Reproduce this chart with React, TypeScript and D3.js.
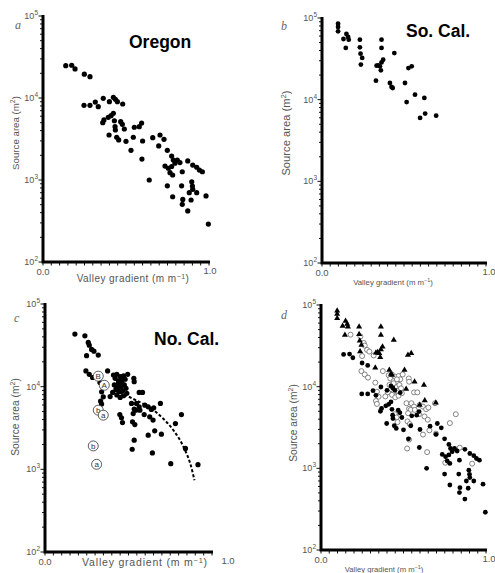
import React from 'react';
import * as d3 from 'd3';

// ---------- data (gradient m/m, source area m^2) ----------
const oregon: [number, number][] = [
  [0.137, 24800], [0.173, 25100], [0.193, 22600], [0.249, 19500], [0.283, 18200],
  [0.247, 8150], [0.283, 8150], [0.315, 8930], [0.333, 7830], [0.363, 9910],
  [0.40, 9020], [0.424, 10200], [0.436, 9640], [0.448, 9020], [0.48, 8450],
  [0.36, 5000], [0.367, 5400], [0.393, 5820], [0.41, 6080], [0.424, 6500],
  [0.43, 5280], [0.434, 4470], [0.436, 4070], [0.398, 3540], [0.444, 3320],
  [0.456, 3080], [0.468, 5140], [0.478, 4780], [0.49, 4190], [0.50, 2960],
  [0.53, 2300], [0.544, 3320], [0.55, 4400], [0.58, 4470], [0.594, 4950],
  [0.60, 2990], [0.596, 1800], [0.64, 1000], [0.661, 3280], [0.697, 2600],
  [0.705, 3540], [0.729, 3130], [0.749, 2300], [0.775, 1960], [0.785, 1750],
  [0.735, 1480], [0.755, 1390], [0.775, 1460], [0.765, 1230], [0.795, 1600],
  [0.809, 1750], [0.825, 1630], [0.839, 1260], [0.781, 1150], [0.872, 1710],
  [0.902, 1520], [0.926, 1430], [0.942, 1320], [0.96, 1260], [0.749, 850],
  [0.781, 625], [0.835, 850], [0.896, 950], [0.90, 845], [0.902, 770],
  [0.881, 700], [0.842, 580], [0.839, 505], [0.872, 420], [0.892, 570],
  [0.926, 700], [0.982, 640], [0.996, 290],
];

const soCal: [number, number][] = [
  [0.098, 85300], [0.098, 77600], [0.098, 68700], [0.131, 55300], [0.149, 63700],
  [0.159, 58500], [0.145, 43000], [0.163, 54300], [0.231, 54300], [0.231, 43800],
  [0.235, 36600], [0.245, 32400], [0.237, 26900], [0.363, 54300], [0.363, 43000],
  [0.373, 30900], [0.363, 28600], [0.343, 26300], [0.333, 26100], [0.353, 25600],
  [0.359, 22900], [0.329, 17100], [0.441, 37200], [0.414, 16000], [0.424, 14300],
  [0.431, 13900], [0.527, 24400], [0.547, 25600], [0.506, 16000], [0.516, 9350],
  [0.567, 11500], [0.624, 10500], [0.629, 6750], [0.598, 5970], [0.696, 6370],
];

const noCal: [number, number][] = [
  [0.179, 43300], [0.239, 41200], [0.259, 34300], [0.265, 31800], [0.279, 28200],
  [0.293, 26900], [0.249, 23700], [0.319, 24100], [0.245, 15500], [0.265, 14100],
  [0.285, 12900], [0.329, 11200], [0.375, 15500], [0.339, 8670], [0.349, 7530],
  [0.333, 6680], [0.339, 6150],
  [0.41, 13800], [0.42, 12600], [0.43, 14100], [0.44, 11700], [0.45, 13200],
  [0.46, 11200], [0.47, 13500], [0.48, 12300], [0.495, 14100], [0.415, 10500],
  [0.425, 9330], [0.435, 9770], [0.445, 8710], [0.455, 10000], [0.465, 8910],
  [0.475, 10500], [0.485, 9550], [0.43, 7940], [0.45, 7410], [0.47, 7760],
  [0.49, 8320], [0.44, 11000], [0.46, 12300], [0.405, 8510], [0.39, 7590],
  [0.532, 12600], [0.534, 11500], [0.564, 8510], [0.584, 8510], [0.518, 6270],
  [0.548, 6270], [0.564, 5700], [0.534, 5350], [0.544, 5200], [0.568, 5200],
  [0.598, 5970], [0.618, 5700], [0.637, 5300], [0.651, 5550], [0.691, 6270],
  [0.528, 4730], [0.594, 4600], [0.627, 4320], [0.647, 3940], [0.448, 4600],
  [0.458, 4200], [0.464, 3680], [0.524, 3760], [0.538, 3480], [0.618, 2590],
  [0.657, 2920], [0.697, 2660], [0.534, 2250], [0.522, 1750], [0.643, 1580],
  [0.753, 1170], [0.817, 4600], [0.781, 3580], [0.841, 1790], [0.916, 1140],
];

const noCalMarkers: { g: number; a: number; label: string }[] = [
  { g: 0.319, a: 13400, label: 'B' },
  { g: 0.355, a: 10400, label: 'A' },
  { g: 0.319, a: 5200, label: 'b' },
  { g: 0.349, a: 4520, label: 'a' },
  { g: 0.289, a: 1920, label: 'b' },
  { g: 0.309, a: 1150, label: 'a' },
];

const noCalCurve: [number, number][] = [
  [0.42, 8910], [0.49, 7760], [0.55, 6760], [0.61, 5890], [0.66, 5010],
  [0.71, 4070], [0.77, 2950], [0.83, 1860], [0.87, 1170], [0.895, 740],
];

const yDomain: [number, number] = [100, 100000];
const xDomain: [number, number] = [0, 1];
const decadeExponents = [2, 3, 4, 5];
const xLabels = ['0.0', '1.0'];

// ---------- layout ----------
type Cfg = {
  x0: number; x1: number; yTop: number; yBot: number;
  letter: string; lx: number; ly: number;
  title?: string; tx?: number; ty?: number;
  xtX: number; xtY: number; xtSize: number; xtSpace: number;
  ytX: number; ytY: number; ytSize: number;
  endLabelDx: number;
};

const cfgA: Cfg = { x0: 43, x1: 209, yTop: 16, yBot: 262, letter: 'a', lx: 15, ly: 29,
  title: 'Oregon', tx: 129, ty: 48, xtX: 133, xtY: 282, xtSize: 10, xtSpace: 0.45,
  ytX: 19, ytY: 133, ytSize: 9.7, endLabelDx: 1 };
const cfgB: Cfg = { x0: 322, x1: 486, yTop: 18, yBot: 263, letter: 'b', lx: 281, ly: 30,
  title: 'So. Cal.', tx: 406, ty: 37, xtX: 393, xtY: 285, xtSize: 7.8, xtSpace: 0,
  ytX: 290, ytY: 133, ytSize: 11.2, endLabelDx: 3 };
const cfgC: Cfg = { x0: 45, x1: 212, yTop: 304, yBot: 552, letter: 'c', lx: 14, ly: 322,
  title: 'No. Cal.', tx: 154, ty: 345, xtX: 145, xtY: 566, xtSize: 10.5, xtSpace: 0.8,
  ytX: 19, ytY: 417, ytSize: 10.2, endLabelDx: 16 };
const cfgD: Cfg = { x0: 321, x1: 486, yTop: 305, yBot: 550, letter: 'd', lx: 281, ly: 319,
  xtX: 384, xtY: 572, xtSize: 7.7, xtSpace: 0, ytX: 297, ytY: 423, ytSize: 10.2,
  endLabelDx: 3 };

const GRAY = '#555';
const SANS = 'Liberation Sans, Arial, sans-serif';

function makeScales(c: Cfg) {
  const x = d3.scaleLinear().domain(xDomain).range([c.x0, c.x1]);
  const y = d3.scaleLog().domain(yDomain).range([c.yBot, c.yTop]);
  return { x, y };
}

function Frame({ c, children }: { c: Cfg; children?: React.ReactNode }) {
  const { x, y } = makeScales(c);
  const xt = d3.range(0, 1.0001, 0.05);
  const yt = y.ticks();
  return (
    <g>
      {xt.map((t, i) => (
        <line key={'xt' + i} x1={x(t)} x2={x(t)} y1={c.yBot} y2={c.yBot + 3.5} stroke="#111" strokeWidth={1} />
      ))}
      {yt.map((t, i) => {
        const major = Math.abs(Math.log10(t) - Math.round(Math.log10(t))) < 1e-6;
        return <line key={'yt' + i} x1={c.x0 - (major ? 4.5 : 3)} x2={c.x0} y1={y(t)} y2={y(t)} stroke="#111" strokeWidth={1} />;
      })}
      <path d={`M${c.x0},${c.yTop - 1} V${c.yBot} H${c.x1 + 1}`} fill="none" stroke="#000" strokeWidth={3} />
      {decadeExponents.map((e) => (
        <text key={'yl' + e} x={c.x0 - 5} y={y(Math.pow(10, e)) + 3} textAnchor="end" fontSize={9} fill={GRAY}
          fontFamily={SANS}>
          10<tspan fontSize={6.5} dy={-4}>{e}</tspan>
        </text>
      ))}
      <text x={x(0)} y={c.yBot + 13} textAnchor="middle" fontSize={9.5} fill={GRAY} fontFamily={SANS}>{xLabels[0]}</text>
      <text x={x(1) + c.endLabelDx} y={c.yBot + 12} textAnchor="middle" fontSize={9.5} fill={GRAY} fontFamily={SANS}>{xLabels[1]}</text>
      <text x={c.xtX} y={c.xtY} textAnchor="middle" fontSize={c.xtSize} fill={GRAY} letterSpacing={c.xtSpace}
        fontFamily={SANS}>
        Valley gradient (m m<tspan dy={-3} fontSize={c.xtSize * 0.7}>−1</tspan><tspan dy={3}>)</tspan>
      </text>
      <text transform={`translate(${c.ytX},${c.ytY}) rotate(-90)`} textAnchor="middle" fontSize={c.ytSize} fill={GRAY}
        fontFamily={SANS}>
        Source area (m<tspan dy={-4} fontSize={c.ytSize * 0.7}>2</tspan><tspan dy={4}>)</tspan>
      </text>
      <text x={c.lx} y={c.ly} fontSize={12} fontStyle="italic" fill="#666" fontFamily="Liberation Serif, Times New Roman, serif">{c.letter}</text>
      {c.title && (
        <text x={c.tx} y={c.ty} fontSize={17.5} fontWeight="bold" fill="#000" fontFamily={SANS}>{c.title}</text>
      )}
      {children}
    </g>
  );
}

function Dots({ c, data, r = 2.6 }: { c: Cfg; data: [number, number][]; r?: number }) {
  const { x, y } = makeScales(c);
  return (
    <g>
      {data.map((d, i) => <circle key={i} cx={x(d[0])} cy={y(d[1])} r={r} fill="#000" />)}
    </g>
  );
}

export default function App() {
  const sC = makeScales(cfgC);
  const sD = makeScales(cfgD);
  const curve = d3.line<[number, number]>().x((d) => sC.x(d[0])).y((d) => sC.y(d[1])).curve(d3.curveMonotoneX);
  const tri = d3.symbol().type(d3.symbolTriangle).size(16)();
  return (
    <svg width={495} height={573} style={{ position: 'absolute', left: 0, top: 0, background: '#fff' }}>
      <rect width={495} height={573} fill="#fff" />
      <Frame c={cfgA}><Dots c={cfgA} data={oregon} /></Frame>
      <Frame c={cfgB}><Dots c={cfgB} data={soCal} r={2.4} /></Frame>
      <Frame c={cfgC}>
        <Dots c={cfgC} data={noCal} r={2.6} />
        <path d={curve(noCalCurve) || ''} fill="none" stroke="#000" strokeWidth={2} strokeDasharray="3,2" />
        {noCalMarkers.map((m, i) => (
          <g key={i}>
            <circle cx={sC.x(m.g)} cy={sC.y(m.a)} r={5} fill="#fff" stroke="#333" strokeWidth={0.8} />
            <text x={sC.x(m.g)} y={sC.y(m.a) + 2.8} textAnchor="middle" fontSize={8} fill="#333"
              fontFamily={SANS}>{m.label}</text>
          </g>
        ))}
      </Frame>
      <Frame c={cfgD}>
        {noCal.map((d, i) => (
          <circle key={'n' + i} cx={sD.x(d[0])} cy={sD.y(d[1])} r={2.5} fill="#fff" stroke="#666" strokeWidth={0.8} />
        ))}
        <Dots c={cfgD} data={oregon} r={2.4} />
        {soCal.map((d, i) => (
          <path key={'s' + i} d={tri || ''} transform={`translate(${sD.x(d[0])},${sD.y(d[1])})`} fill="#000" />
        ))}
      </Frame>
    </svg>
  );
}
